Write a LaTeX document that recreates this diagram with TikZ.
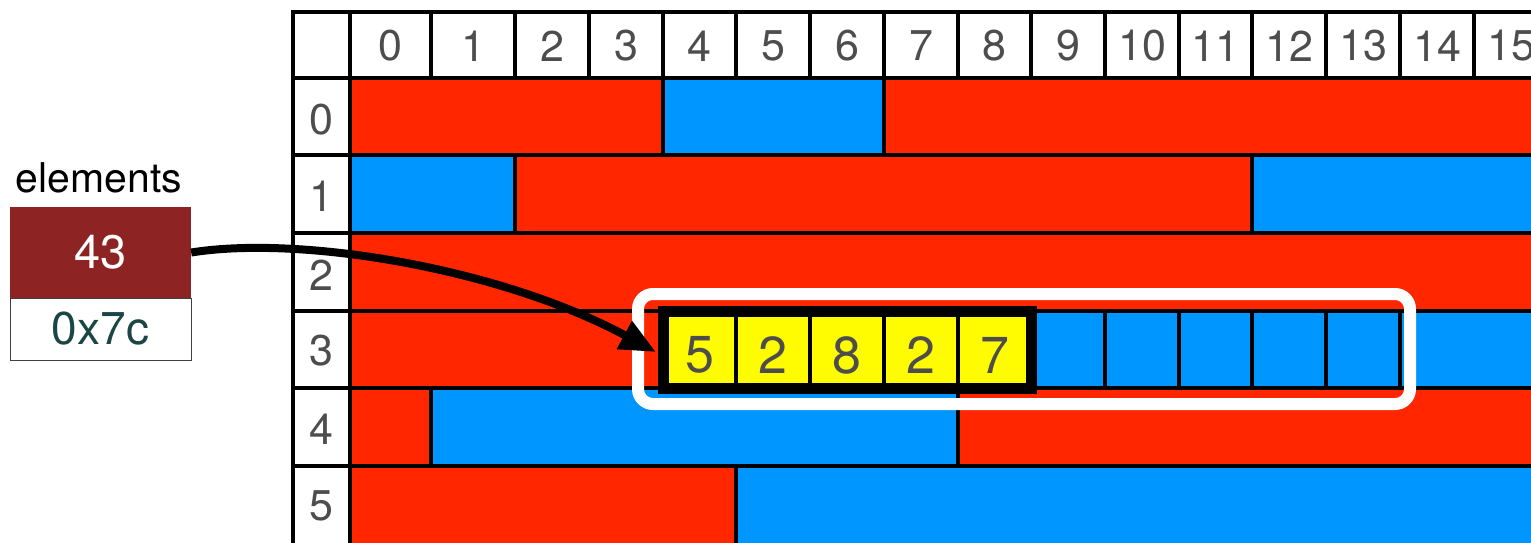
\documentclass[tikz,border=0pt]{standalone}
\usepackage{fontspec}
\setmainfont{TeX Gyre Heros}
\usetikzlibrary{arrows.meta}
\definecolor{cred}{RGB}{255,38,0}
\definecolor{cblue}{RGB}{0,150,255}
\definecolor{cyel}{RGB}{255,251,0}
\definecolor{cbox}{RGB}{142,35,35}
\definecolor{ctext}{RGB}{77,77,77}
\definecolor{caddr}{RGB}{28,70,70}
\tikzset{
  seg/.style={draw=black, line width=4pt},
  hdr/.style={font=\fontsize{43}{48}\selectfont, text=ctext, inner sep=0pt},
  ydig/.style={font=\fontsize{52}{58}\selectfont, text=ctext, inner sep=0pt},
}
\begin{document}
\begin{tikzpicture}[x=1pt,y=-1pt]
\useasboundingbox (0,0) rectangle (1531,542);
\clip (0,0) rectangle (1531,542);
\fill[white] (0,0) rectangle (1531,542);
% header row
\foreach \a/\b in {293/350,350/431,431/515,515/589,589/663,663/736,736/810,810/884,884/958,958/1031,1031/1105,1105/1179,1179/1252,1252/1326,1326/1400,1400/1474,1474/1548}
  \filldraw[seg, fill=white] (\a,12) rectangle (\b,78);
% label column
\foreach \a/\b in {78/155,155/233,233/311,311/388,388/466,466/560}
  \filldraw[seg, fill=white] (293,\a) rectangle (350,\b);
% row 0
\filldraw[seg, fill=cred] (350,78) rectangle (663,155);
\filldraw[seg, fill=cblue] (663,78) rectangle (884,155);
\filldraw[seg, fill=cred] (884,78) rectangle (1560,155);
% row 1
\filldraw[seg, fill=cblue] (350,155) rectangle (515,233);
\filldraw[seg, fill=cred] (515,155) rectangle (1252,233);
\filldraw[seg, fill=cblue] (1252,155) rectangle (1560,233);
% row 2
\filldraw[seg, fill=cred] (350,233) rectangle (1560,311);
% row 3
\filldraw[seg, fill=cred] (350,311) rectangle (663,388);
\foreach \a/\b in {663/736,736/810,810/884,884/958,958/1031}
  \filldraw[seg, fill=cyel] (\a,311) rectangle (\b,388);
\foreach \a/\b in {1031/1105,1105/1179,1179/1252,1252/1326,1326/1400,1400/1560}
  \filldraw[seg, fill=cblue] (\a,311) rectangle (\b,388);
% row 4
\filldraw[seg, fill=cred] (350,388) rectangle (431,466);
\filldraw[seg, fill=cblue] (431,388) rectangle (958,466);
\filldraw[seg, fill=cred] (958,388) rectangle (1560,466);
% row 5
\filldraw[seg, fill=cred] (350,466) rectangle (736,560);
\filldraw[seg, fill=cblue] (736,466) rectangle (1560,560);
% header labels
\foreach \n/\x in {0/390.5,1/473,2/552,3/626,4/699.5,5/773,6/847,7/921,8/994.5,9/1068,10/1142,11/1215.5,12/1289,13/1363,14/1437,15/1511}
  \node[hdr] (h\n) at (\x,46) {\n};
% row labels
\foreach \n/\y in {0/120,1/196,2/275,3/351,4/429,5/506}
  \node[hdr] (r\n) at (321.5,\y) {\n};
% highlighted block
\draw[line width=11pt] (663,311) rectangle (1031,388);
\foreach \n/\x/\v in {a/699.5/5,b/773/2,c/847/8,d/921/2,e/994.5/7}
  \node[ydig] (y\n) at (\x,355) {\v};
\draw[white, line width=12pt, rounded corners=15pt] (638,294) rectangle (1410,404);
% variable box
\node[anchor=base, font=\fontsize{41}{48}\selectfont, inner sep=0pt] (lbl) at (99,192) {elements};
\node[fill=cbox, minimum width=181pt, minimum height=91pt, inner sep=0pt, text=white, font=\fontsize{47}{52}\selectfont] (val) at (100.5,252.5) {43};
\node[fill=white, draw=black!75, line width=1pt, minimum width=181pt, minimum height=62pt, inner sep=0pt, text=caddr, font=\fontsize{46}{52}\selectfont] (addr) at (100.5,329) {0x7c};
\coordinate (tip) at (656,352);
\draw[line width=8pt, -{Triangle[length=36pt,width=30pt]}] (val.east) .. controls (300,235) and (500,268) .. (tip);
\end{tikzpicture}
\end{document}
